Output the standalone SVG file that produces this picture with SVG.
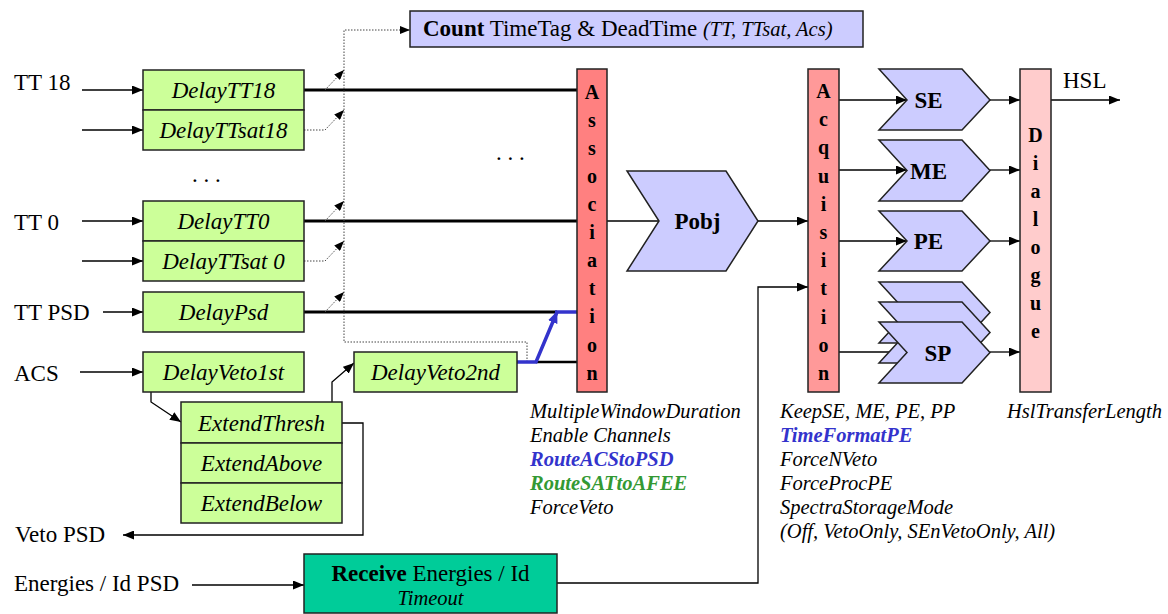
<svg xmlns="http://www.w3.org/2000/svg" width="1168" height="614" viewBox="0 0 1168 614">
<defs>
<style>
text{font-family:"Liberation Serif","Times New Roman",serif;fill:#000}
.lbl{font-size:23px}
.bi{font-size:23px;font-style:italic;text-anchor:middle}
.vb{font-size:20px;font-weight:bold;text-anchor:middle}
.chv{font-size:23px;font-weight:bold;text-anchor:middle}
.par{font-size:20.5px;font-style:italic}
.box{stroke:#222;stroke-width:1.5}
.g{fill:#ccff99}
.p{fill:#ccccff}
.ln{fill:none;stroke:#000;stroke-width:1.3}
.thk{fill:none;stroke:#000;stroke-width:3}
.dot{fill:none;stroke:#444;stroke-width:1;stroke-dasharray:1.5 1.5}
.blue{fill:none;stroke:#3333cc;stroke-width:3.5}
</style>
<marker id="ah" markerUnits="userSpaceOnUse" markerWidth="11" markerHeight="9" refX="11" refY="4.5" orient="auto"><path d="M0,0 L11,4.5 L0,9 z" fill="#000"/></marker>
<marker id="ahs" markerUnits="userSpaceOnUse" markerWidth="10" markerHeight="8" refX="10" refY="4" orient="auto"><path d="M0,0 L10,4 L0,8 z" fill="#000"/></marker>
<marker id="ahb" markerUnits="userSpaceOnUse" markerWidth="12" markerHeight="10" refX="11" refY="5" orient="auto"><path d="M0,0 L12,5 L0,10 z" fill="#3333cc"/></marker>
</defs>

<g id="labels">
<text class="lbl" x="14" y="90">TT 18</text>
<text class="lbl" x="14" y="230">TT 0</text>
<text class="lbl" x="14" y="320">TT PSD</text>
<text class="lbl" x="14" y="381">ACS</text>
<text class="lbl" x="15" y="542">Veto PSD</text>
<text class="lbl" x="14" y="591">Energies / Id PSD</text>
<text class="lbl" x="1063" y="88">HSL</text>
<text class="lbl" x="192" y="182">. . .</text>
<text class="lbl" x="496" y="160">. . .</text>
</g>

<g id="connectors">
<path class="ln" d="M82,90 H143" marker-end="url(#ah)"/>
<path class="ln" d="M82,130 H143" marker-end="url(#ah)"/>
<path class="ln" d="M82,221 H143" marker-end="url(#ah)"/>
<path class="ln" d="M82,261 H143" marker-end="url(#ah)"/>
<path class="ln" d="M103,312 H143" marker-end="url(#ah)"/>
<path class="ln" d="M80,372 H143" marker-end="url(#ah)"/>
<path class="ln" d="M192,585 H304" marker-end="url(#ah)"/>
<path class="thk" d="M304,90 H577"/>
<path class="thk" d="M304,221 H577"/>
<path class="thk" d="M304,312 H557"/>
<path fill="none" stroke="#000" stroke-width="2.5" d="M536,362 H577"/>
<path class="dot" d="M527,362 V342 H344 V30 H410" marker-end="url(#ahs)"/>
<path class="dot" d="M325,90 L344,70" marker-end="url(#ahs)"/>
<path class="dot" d="M304,130 H325 L344,110" marker-end="url(#ahs)"/>
<path class="dot" d="M325,221 L344,201" marker-end="url(#ahs)"/>
<path class="dot" d="M304,261 H325 L344,241" marker-end="url(#ahs)"/>
<path class="dot" d="M325,312 L344,292" marker-end="url(#ahs)"/>
<path class="blue" d="M517,362 H536 L557,312" marker-end="url(#ahb)"/>
<path class="blue" d="M555,312 H577"/>
<path class="ln" d="M151,392 V402 L181,422" marker-end="url(#ah)"/>
<path class="ln" d="M332,402 V382 L354,363" marker-end="url(#ah)"/>
<path class="ln" d="M342,423 H363 V535 H123" marker-end="url(#ah)"/>
<path class="ln" d="M607,221 H659"/>
<path class="ln" d="M758,221 H808" marker-end="url(#ah)"/>
<path class="ln" d="M557,583 H758 V287 H808" marker-end="url(#ah)"/>
<path class="ln" d="M839,100 H907" marker-end="url(#ah)"/>
<path class="ln" d="M839,170 H907" marker-end="url(#ah)"/>
<path class="ln" d="M839,241 H907" marker-end="url(#ah)"/>
<path class="ln" d="M839,352 H907" marker-end="url(#ah)"/>
<path class="ln" d="M990,100 H1020" marker-end="url(#ah)"/>
<path class="ln" d="M990,170 H1020" marker-end="url(#ah)"/>
<path class="ln" d="M990,241 H1020" marker-end="url(#ah)"/>
<path class="ln" d="M990,352 H1020" marker-end="url(#ah)"/>
<path class="ln" d="M1051,100 H1120" marker-end="url(#ah)"/>
</g>

<g id="count">
<rect class="box p" x="410" y="11" width="453" height="36"/>
<text x="423" y="36" font-size="23px"><tspan font-weight="bold">Count</tspan> TimeTag &amp; DeadTime <tspan font-style="italic" font-size="20.5px">(TT, TTsat, Acs)</tspan></text>
</g>

<g id="delayTT18"><rect class="box g" x="143" y="70" width="161" height="40"/><text class="bi" x="223.5" y="98">DelayTT18</text></g>
<g id="delayTTsat18"><rect class="box g" x="143" y="110" width="161" height="40"/><text class="bi" x="223.5" y="138">DelayTTsat18</text></g>
<g id="delayTT0"><rect class="box g" x="143" y="201" width="161" height="40"/><text class="bi" x="223.5" y="229">DelayTT0</text></g>
<g id="delayTTsat0"><rect class="box g" x="143" y="241" width="161" height="40"/><text class="bi" x="223.5" y="269">DelayTTsat 0</text></g>
<g id="delayPsd"><rect class="box g" x="143" y="292" width="161" height="40"/><text class="bi" x="223.5" y="320">DelayPsd</text></g>
<g id="delayVeto1st"><rect class="box g" x="143" y="352" width="161" height="40"/><text class="bi" x="223.5" y="380">DelayVeto1st</text></g>
<g id="delayVeto2nd"><rect class="box g" x="354" y="352" width="163" height="40"/><text class="bi" x="435.5" y="380">DelayVeto2nd</text></g>
<g id="extendThresh"><rect class="box g" x="181" y="402" width="161" height="41"/><text class="bi" x="261.5" y="431">ExtendThresh</text></g>
<g id="extendAbove"><rect class="box g" x="181" y="443" width="161" height="40"/><text class="bi" x="261.5" y="471">ExtendAbove</text></g>
<g id="extendBelow"><rect class="box g" x="181" y="483" width="161" height="40"/><text class="bi" x="261.5" y="511">ExtendBelow</text></g>

<g id="association">
<rect class="box" fill="#ff8080" x="577" y="69" width="30" height="323"/>
<text class="vb"><tspan x="592" y="99">A</tspan><tspan x="592" y="127">s</tspan><tspan x="592" y="155">s</tspan><tspan x="592" y="183">o</tspan><tspan x="592" y="211">c</tspan><tspan x="592" y="239">i</tspan><tspan x="592" y="267">a</tspan><tspan x="592" y="295">t</tspan><tspan x="592" y="323">i</tspan><tspan x="592" y="352">o</tspan><tspan x="592" y="380">n</tspan></text>
<text class="par" x="530" y="418">MultipleWindowDuration</text>
<text class="par" x="530" y="442">Enable Channels</text>
<text class="par" x="530" y="466" font-weight="bold" style="fill:#3333cc">RouteACStoPSD</text>
<text class="par" x="530" y="490" font-weight="bold" style="fill:#339933">RouteSATtoAFEE</text>
<text class="par" x="530" y="514">ForceVeto</text>
</g>

<g id="pobj">
<polygon class="box p" points="627,171 726,171 758,221 726,271 627,271 659,221"/>
<text class="chv" x="697.5" y="229">Pobj</text>
</g>

<g id="acquisition">
<rect class="box" fill="#ff9999" x="808" y="69" width="31" height="323"/>
<text class="vb"><tspan x="823.5" y="98">A</tspan><tspan x="823.5" y="126">c</tspan><tspan x="823.5" y="154">q</tspan><tspan x="823.5" y="183">u</tspan><tspan x="823.5" y="211">i</tspan><tspan x="823.5" y="239">s</tspan><tspan x="823.5" y="267">i</tspan><tspan x="823.5" y="295">t</tspan><tspan x="823.5" y="324">i</tspan><tspan x="823.5" y="352">o</tspan><tspan x="823.5" y="380">n</tspan></text>
<text class="par" x="780" y="418">KeepSE, ME, PE, PP</text>
<text class="par" x="780" y="442" font-weight="bold" style="fill:#3333cc">TimeFormatPE</text>
<text class="par" x="780" y="466">ForceNVeto</text>
<text class="par" x="780" y="490">ForceProcPE</text>
<text class="par" x="780" y="514">SpectraStorageMode</text>
<text class="par" x="780" y="538">(Off, VetoOnly, SEnVetoOnly, All)</text>
</g>

<g id="se"><polygon class="box p" points="879,69 962,69 990,100 962,130 879,130 907,100"/><text class="chv" x="928.5" y="108">SE</text></g>
<g id="me"><polygon class="box p" points="879,140 962,140 990,170.5 962,201 879,201 907,170.5"/><text class="chv" x="928.5" y="179">ME</text></g>
<g id="pe"><polygon class="box p" points="879,211 962,211 990,241 962,271 879,271 907,241"/><text class="chv" x="928.5" y="249">PE</text></g>
<g id="sp">
<polygon class="box p" points="879,282 962,282 990,312.5 962,343 879,343 907,312.5"/>
<polygon class="box p" points="879,302 962,302 990,332.5 962,363 879,363 907,332.5"/>
<polygon class="box p" points="879,322 962,322 990,352.5 962,383 879,383 907,352.5"/>
<text class="chv" x="938" y="361">SP</text>
</g>

<g id="dialogue">
<rect class="box" fill="#ffcccc" x="1020" y="69" width="31" height="323"/>
<text class="vb"><tspan x="1035.5" y="142">D</tspan><tspan x="1035.5" y="170">i</tspan><tspan x="1035.5" y="198">a</tspan><tspan x="1035.5" y="226">l</tspan><tspan x="1035.5" y="254">o</tspan><tspan x="1035.5" y="282">g</tspan><tspan x="1035.5" y="310">u</tspan><tspan x="1035.5" y="338">e</tspan></text>
<text class="par" x="1007" y="418">HslTransferLength</text>
</g>

<g id="receive">
<rect class="box" fill="#00cc99" x="304" y="554" width="253" height="59"/>
<text x="430.5" y="581" font-size="23px" text-anchor="middle"><tspan font-weight="bold">Receive</tspan> Energies / Id</text>
<text x="430.5" y="605" font-size="20.5px" font-style="italic" text-anchor="middle">Timeout</text>
</g>
</svg>
